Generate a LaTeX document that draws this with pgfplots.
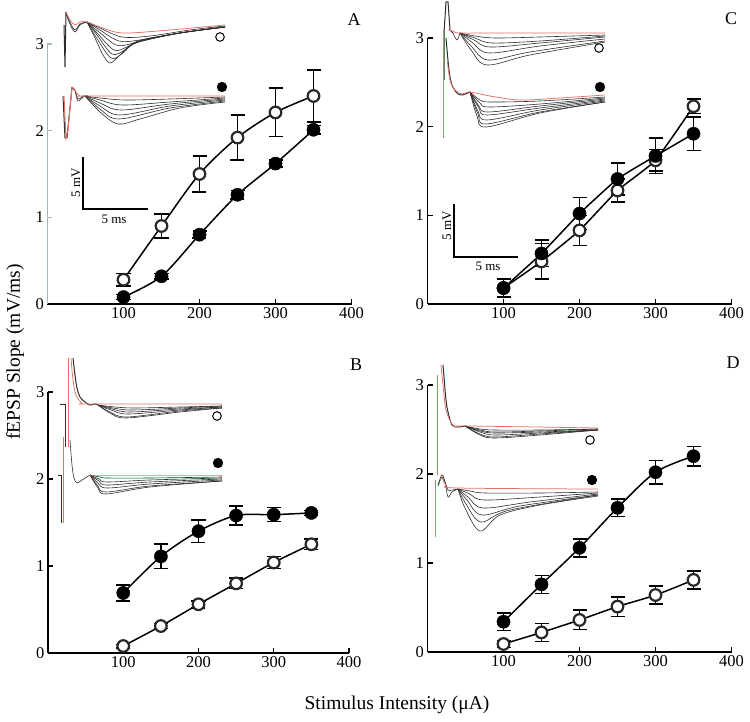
\documentclass[border=0pt]{standalone}
\usepackage{pgfplots}
\pgfplotsset{compat=1.18}
\usepackage{fontspec}
\setmainfont{Liberation Serif}
\definecolor{trace}{RGB}{45,45,45}
\definecolor{redtrace}{RGB}{228,112,100}
\definecolor{axisA}{RGB}{165,182,192}
\definecolor{ring}{RGB}{40,40,40}
\pgfplotsset{
 panel/.style={scale only axis, xmin=0, xmax=400, ymin=0, ymax=3,
   axis x line=bottom, axis y line=left, axis line style={-, line width=1.3pt, black},
   xtick={100,200,300,400}, ytick={0,1,2,3}, tick align=inside, major tick length=5pt,
   tick style={line width=1.2pt, black}, clip=false,
   ticklabel style={font=\fontsize{16.5}{18}\selectfont},
   /pgf/number format/assume math mode=true, anchor=south west},
 opendata/.style={black, line width=1.5pt, smooth, tension=0.5, mark=*, mark size=5.8pt,
   mark options={fill=white, draw=ring, line width=2.2pt},
   error bars/.cd, y dir=both, y explicit, error bar style={line width=1.5pt, black},
   error mark options={rotate=90, mark size=7pt, line width=1.5pt, black}, /pgfplots/.cd},
 filleddata/.style={black, line width=1.5pt, smooth, tension=0.5, mark=*, mark size=6.6pt,
   mark options={fill=black, draw=black, line width=0.4pt},
   error bars/.cd, y dir=both, y explicit, error bar style={line width=1.5pt, black},
   error mark options={rotate=90, mark size=7pt, line width=1.5pt, black}, /pgfplots/.cd},
 tr/.style={trace, line width=0.6pt, smooth, tension=0.55},
 rtr/.style={redtrace, line width=0.75pt, smooth, tension=0.55},
 art/.style={trace, line width=1pt, sharp plot},
 rart/.style={redtrace, line width=1pt, sharp plot},
}
\begin{document}
\begin{tikzpicture}
\useasboundingbox (0pt,0pt) rectangle (750pt,722pt);
% ---------- overlay with the inset traces (pixel coordinates) ----------
\begin{axis}[hide axis, scale only axis, width=750pt, height=722pt, xmin=0, xmax=750, ymin=0, ymax=722,
  y dir=reverse, at={(0pt,0pt)}, anchor=south west, clip=false]
% ===== A, open =====
\addplot[art] coordinates {(64,25) (65,67) (66,12)};
\addplot[tr] coordinates {(66,12) (70,22) (75,30) (80,24) (87,22)};
\addplot[tr] coordinates {(66,14) (70,24) (75,32) (80,25) (87,22)};
\addplot[tr] coordinates {(87,22) (100,28) (122,37) (150,36) (190,30) (225,26)};
\addplot[tr] coordinates {(87,22) (100,30) (119,41) (140,40) (180,33) (225,27)};
\addplot[tr] coordinates {(87,22) (99,32) (116,45) (130,44) (145,39) (180,33) (225,27)};
\addplot[tr] coordinates {(87,22) (98,34) (114,50) (127,47) (140,41) (180,33) (225,27)};
\addplot[tr] coordinates {(87,22) (97,35) (112,54) (125,50) (138,42) (180,33) (225,27)};
\addplot[tr] coordinates {(87,22) (96,37) (111,58) (123,53) (136,43) (180,33) (225,27)};
\addplot[tr] coordinates {(87,22) (95,38) (103,55) (110,63) (118,57) (132,44) (150,39) (180,33) (225,27)};
\addplot[rtr] coordinates {(66,12) (70,20) (75,25) (80,22) (87,22) (100,27) (115,32) (130,33) (170,30) (225,25)};
% ===== A, filled =====
\addplot[art] coordinates {(63,96) (65,138) (67,138) (72,87)};
\addplot[tr] coordinates {(72,87) (75,90) (78,99) (83,96) (88,96)};
\addplot[tr] coordinates {(72,88) (75,91) (78,101) (83,97) (88,96)};
\addplot[tr] coordinates {(85,96) (100,98) (125,100) (170,99) (225,97)};
\addplot[tr] coordinates {(85,96) (100,100) (122,105) (170,102) (225,98)};
\addplot[tr] coordinates {(85,96) (100,103) (121,110) (170,104) (225,99)};
\addplot[tr] coordinates {(85,96) (100,106) (120,115) (170,106) (225,100)};
\addplot[tr] coordinates {(85,96) (100,109) (119,119) (170,108) (225,101)};
\addplot[tr] coordinates {(85,96) (100,112) (118,124) (140,119) (180,108) (225,102)};
\addplot[rart] coordinates {(64,96) (66,138) (68,130) (72,87)};
\addplot[rtr] coordinates {(72,87) (76,92) (80,96) (90,96) (225,96)};
% ===== C, open =====
\addplot[art] coordinates {(444,80) (444,33) (446,2) (448,2) (450,30) (453,33)};
\addplot[rart] coordinates {(443,138) (443,30)};
\addplot[tr] coordinates {(453,33) (457,40) (460,33)};
\addplot[tr] coordinates {(460,33) (475,36) (495,38) (540,37) (605,35)};
\addplot[tr] coordinates {(460,33) (475,38) (492,43) (540,41) (605,36)};
\addplot[tr] coordinates {(460,33) (474,40) (490,47) (540,43) (605,37)};
\addplot[tr] coordinates {(460,33) (473,43) (489,53) (540,46) (605,39)};
\addplot[tr] coordinates {(460,33) (472,47) (488,60) (530,52) (605,41)};
\addplot[tr] coordinates {(460,33) (471,50) (487,65) (530,55) (605,42)};
\addplot[rtr] coordinates {(448,30) (453,31) (460,33) (500,33) (605,33)};
% ===== C, filled =====
\addplot[tr, line width=1pt] coordinates {(446,38) (449,70) (452,85) (457,93) (462,95) (470,92)};
\addplot[tr] coordinates {(470,92) (480,100) (490,102) (540,101) (605,97)};
\addplot[tr] coordinates {(470,92) (480,103) (489,107) (540,104) (605,98)};
\addplot[tr] coordinates {(470,92) (479,106) (488,112) (540,106) (605,99)};
\addplot[tr] coordinates {(470,92) (479,108) (487,115) (540,108) (605,100)};
\addplot[tr] coordinates {(470,92) (478,111) (487,120) (540,110) (605,101)};
\addplot[tr] coordinates {(470,92) (478,114) (486,124) (540,112) (605,102)};
\addplot[tr] coordinates {(470,92) (477,116) (486,127) (540,113) (605,102)};
\addplot[rtr] coordinates {(447,58) (450,80) (455,90) (462,94) (470,92) (490,96) (520,100) (560,98) (605,95)};
% ===== B, open =====
\addplot[art] coordinates {(60,405) (65,405) (65,447)};
\addplot[rart] coordinates {(68,358) (68,447)};
\addplot[tr, line width=1pt] coordinates {(73,358) (75,375) (77,388) (80,397) (85,402) (90,405) (95,404) (98,405)};
\addplot[tr] coordinates {(98,405) (115,407) (135,408) (180,407) (222,406)};
\addplot[tr] coordinates {(98,405) (113,408) (132,410) (180,408) (222,406)};
\addplot[tr] coordinates {(98,405) (112,409) (130,412) (180,409) (222,407)};
\addplot[tr] coordinates {(98,405) (111,410) (128,414) (180,410) (222,407)};
\addplot[tr] coordinates {(98,405) (110,412) (127,417) (180,411) (222,408)};
\addplot[tr] coordinates {(98,405) (110,413) (126,418) (180,412) (222,408)};
\addplot[rtr] coordinates {(71,358) (73,380) (76,395) (82,403) (90,404) (222,404)};
% ===== B, filled =====
\addplot[art] coordinates {(58,476) (61,476) (61,523)};
\addplot[rart] coordinates {(63,437) (63,523)};
\addplot[tr] coordinates {(70,440) (72,465) (74,478) (77,483) (82,480) (90,475)};
\addplot[tr] coordinates {(90,475) (100,477) (107,478) (150,478) (222,477)};
\addplot[tr] coordinates {(90,475) (99,479) (107,482) (150,480) (222,478)};
\addplot[tr] coordinates {(90,475) (99,481) (107,485) (150,482) (222,479)};
\addplot[tr] coordinates {(90,475) (98,483) (107,488) (150,484) (222,480)};
\addplot[tr] coordinates {(90,475) (98,486) (106,492) (150,486) (222,481)};
\addplot[tr] coordinates {(90,475) (98,488) (106,494) (150,487) (222,481)};
\addplot[rtr] coordinates {(90,475) (222,475)};
% ===== D, open =====
\addplot[rart] coordinates {(437,375) (437,475)};
\addplot[rart] coordinates {(435,480) (435,537)};
\addplot[tr, line width=1pt] coordinates {(443,365) (444,377) (446,400) (448,412) (452,425) (458,427) (465,426)};
\addplot[tr] coordinates {(465,426) (480,429) (495,430) (540,430) (598,429)};
\addplot[tr] coordinates {(465,426) (480,430) (495,432) (540,431) (598,429)};
\addplot[tr] coordinates {(465,426) (480,431) (495,433) (540,432) (598,430)};
\addplot[tr] coordinates {(465,426) (480,432) (495,435) (540,433) (598,430)};
\addplot[tr] coordinates {(465,426) (480,434) (495,437) (540,434) (598,430)};
\addplot[tr] coordinates {(465,426) (480,435) (495,438) (540,435) (598,430)};
\addplot[rtr] coordinates {(441,365) (443,385) (446,410) (452,424) (458,427) (465,426) (598,428)};
% ===== D, filled =====
\addplot[tr] coordinates {(438,485) (442,475) (445,482) (448,497) (452,492) (458,489)};
\addplot[tr] coordinates {(438,486) (442,477) (445,482) (448,490) (452,490) (458,489)};
\addplot[tr] coordinates {(458,489) (470,491) (485,493) (540,493) (598,492)};
\addplot[tr] coordinates {(458,489) (470,494) (484,500) (540,497) (598,493)};
\addplot[tr] coordinates {(458,489) (468,497) (483,508) (530,502) (598,494)};
\addplot[tr] coordinates {(458,489) (467,500) (482,515) (520,506) (598,495)};
\addplot[tr] coordinates {(458,489) (466,504) (481,522) (510,510) (598,495)};
\addplot[tr] coordinates {(458,489) (465,508) (480,531) (500,515) (540,505) (598,496)};
\addplot[rtr] coordinates {(440,480) (442,478) (446,485) (458,488) (598,489)};
% ===== inset symbols =====
\addplot[only marks, mark=*, mark size=4.3pt, mark options={fill=white, draw=black, line width=1pt}]
  coordinates {(220,37) (599,48) (217,416) (590,440)};
\addplot[only marks, mark=*, mark size=4.9pt, mark options={fill=black, draw=black}]
  coordinates {(222,87) (600,87) (218,463) (592,480)};
% ===== scale bars =====
\addplot[black, line width=1.2pt, sharp plot] coordinates {(83,157) (83,209) (148,209)};
\addplot[black, line width=1.2pt, sharp plot] coordinates {(454,204) (454,257) (518,257)};
\end{axis}
% ---------- Panel A ----------
\begin{axis}[panel, at={(47.5pt,418pt)}, width=304pt, height=260pt,
  y axis line style={axisA}, ytick style={axisA}]
\addplot[filleddata] table[x=x, y=y, y error=e, row sep=\\] {x y e\\
100 0.08 0.03\\ 150 0.32 0.03\\ 200 0.80 0.04\\ 250 1.26 0.05\\ 300 1.62 0.04\\ 350 2.01 0.05\\};
\addplot[opendata] table[x=x, y=y, y error=e, row sep=\\] {x y e\\
100 0.28 0.07\\ 150 0.90 0.14\\ 200 1.50 0.21\\ 250 1.92 0.26\\ 300 2.21 0.28\\ 350 2.40 0.30\\};
\end{axis}
% ---------- Panel C ----------
\begin{axis}[panel, at={(427.5pt,418pt)}, width=304pt, height=266pt]
\addplot[opendata, /tikz/tension=0.25] table[x=x, y=y, y error=e, row sep=\\] {x y e\\
100 0.18 0.10\\ 150 0.48 0.20\\ 200 0.83 0.17\\ 250 1.28 0.13\\ 300 1.62 0.12\\ 350 2.23 0.08\\};
\addplot[filleddata, /tikz/tension=0.25] table[x=x, y=y, y error=e, row sep=\\] {x y e\\
100 0.18 0.10\\ 150 0.57 0.15\\ 200 1.02 0.18\\ 250 1.41 0.18\\ 300 1.67 0.20\\ 350 1.92 0.19\\};
\end{axis}
% ---------- Panel B ----------
\begin{axis}[panel, at={(48pt,69pt)}, width=301pt, height=261pt]
\addplot[filleddata] table[x=x, y=y, y error=e, row sep=\\] {x y e\\
100 0.69 0.09\\ 150 1.11 0.14\\ 200 1.40 0.13\\ 250 1.58 0.11\\ 300 1.59 0.08\\ 350 1.61 0.03\\};
\addplot[opendata] table[x=x, y=y, y error=e, row sep=\\] {x y e\\
100 0.08 0.02\\ 150 0.31 0.03\\ 200 0.56 0.04\\ 250 0.80 0.06\\ 300 1.04 0.07\\ 350 1.25 0.06\\};
\end{axis}
% ---------- Panel D ----------
\begin{axis}[panel, at={(427.5pt,70pt)}, width=304pt, height=267pt]
\addplot[filleddata] table[x=x, y=y, y error=e, row sep=\\] {x y e\\
100 0.34 0.10\\ 150 0.76 0.10\\ 200 1.17 0.10\\ 250 1.62 0.10\\ 300 2.02 0.13\\ 350 2.20 0.11\\};
\addplot[opendata] table[x=x, y=y, y error=e, row sep=\\] {x y e\\
100 0.09 0.04\\ 150 0.22 0.10\\ 200 0.36 0.11\\ 250 0.51 0.11\\ 300 0.64 0.10\\ 350 0.81 0.10\\};
\end{axis}
% ---------- texts ----------
\node[font=\fontsize{18}{20}\selectfont] at (354pt,702pt) {A};
\node[font=\fontsize{18}{20}\selectfont] at (731pt,703pt) {C};
\node[font=\fontsize{18}{20}\selectfont] at (356pt,357pt) {B};
\node[font=\fontsize{18}{20}\selectfont] at (733pt,359pt) {D};
\node[font=\fontsize{13}{15}\selectfont, rotate=90] at (76pt,539pt) {5 mV};
\node[font=\fontsize{13}{15}\selectfont] at (114pt,503pt) {5 ms};
\node[font=\fontsize{13}{15}\selectfont, rotate=90] at (447pt,496pt) {5 mV};
\node[font=\fontsize{13}{15}\selectfont] at (488pt,456pt) {5 ms};
\node[font=\fontsize{19.5}{22}\selectfont, rotate=90] at (15pt,370pt) {fEPSP Slope (mV/ms)};
\node[font=\fontsize{19.5}{22}\selectfont] at (397pt,17pt) {Stimulus Intensity (μA)};
\end{tikzpicture}
\end{document}
